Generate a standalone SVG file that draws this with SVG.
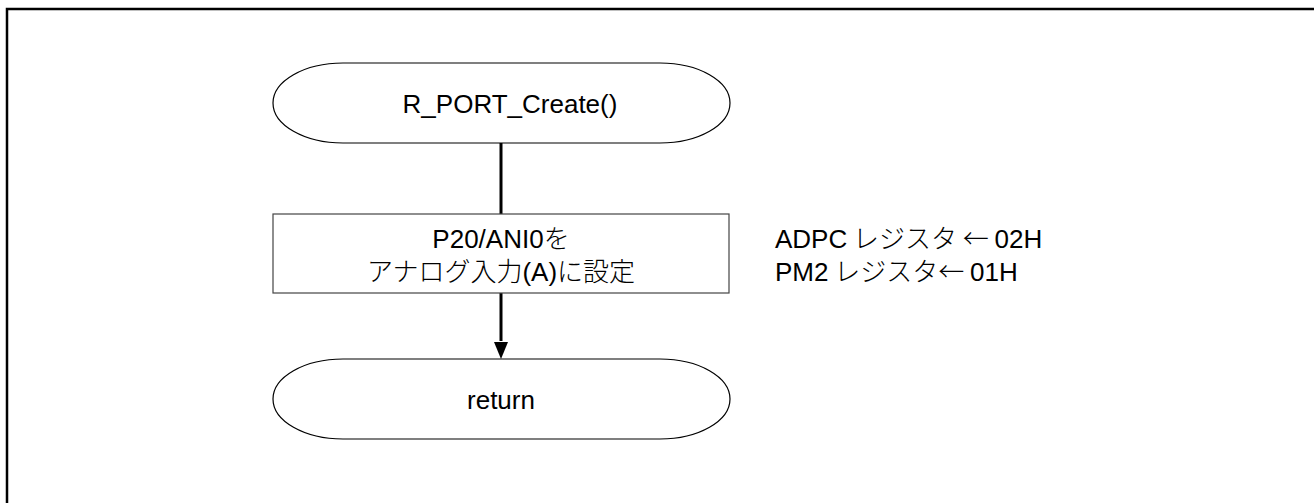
<svg xmlns="http://www.w3.org/2000/svg" width="1314" height="503" viewBox="0 0 1314 503">
<style>
.t{font-family:"Liberation Sans","Noto Sans CJK JP",sans-serif;font-size:26px;fill:#000}
.j{font-family:"Noto Sans CJK JP",sans-serif;font-weight:300}
.shape{fill:#fff;stroke:#000;stroke-width:1.2}
.conn{stroke:#000;stroke-width:3;fill:none}
</style>
<rect x="7" y="9" width="1330" height="520" fill="none" stroke="#000" stroke-width="2.5"/>
<g id="connectors">
<line class="conn" x1="501" y1="143" x2="501" y2="214"/>
<path d="M501,293 V341" class="conn"/>
<path d="M494,342 L508,342 L501,359 Z" fill="#000"/>
</g>
<g id="start">
<path class="shape" d="M343,63 H660 A70,40 0 0 1 660,143 H343 A70,40 0 0 1 343,63 Z"/>
<text class="t" x="510" y="113" text-anchor="middle">R_PORT_Create()</text>
</g>
<g id="process">
<rect x="273" y="214" width="456" height="79" fill="#fff" stroke="#444" stroke-width="1.2"/>
<text class="t" x="501" y="248" text-anchor="middle">P20/ANI0<tspan class="j">を</tspan></text>
<text class="t" x="501" y="281" text-anchor="middle"><tspan class="j">アナログ入力</tspan>(A)<tspan class="j">に設定</tspan></text>
</g>
<g id="end">
<path class="shape" d="M343,359 H660 A70,40 0 0 1 660,439 H343 A70,40 0 0 1 343,359 Z"/>
<text class="t" x="501" y="409" text-anchor="middle">return</text>
</g>
<g id="note">
<text class="t" x="775" y="248">ADPC<tspan class="j"> レジスタ ← </tspan>02H</text>
<text class="t" x="775" y="281">PM2<tspan class="j"> レジスタ← </tspan>01H</text>
</g>
</svg>
